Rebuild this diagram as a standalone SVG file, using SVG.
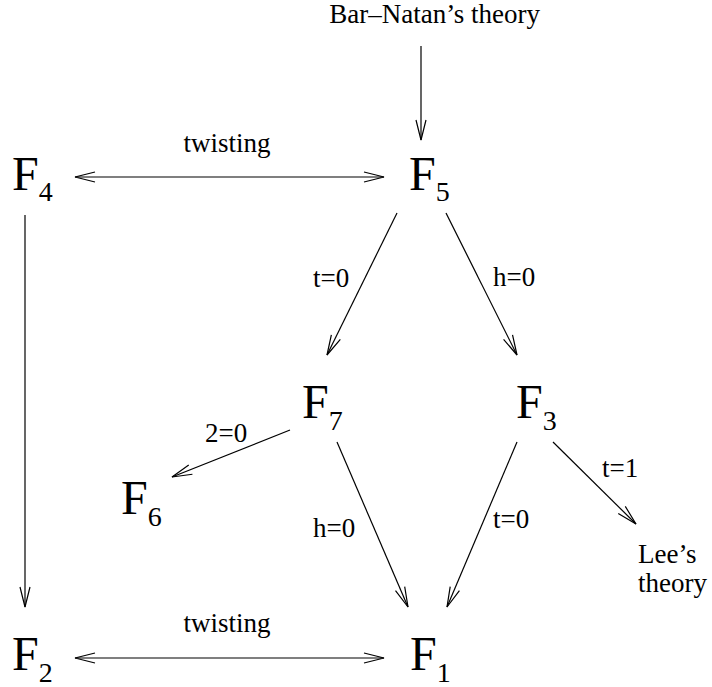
<svg xmlns="http://www.w3.org/2000/svg" width="712" height="687" viewBox="0 0 712 687">
<style>
.n{font-family:"Liberation Serif","Times New Roman",serif;font-size:48px;fill:#000}
.s{font-size:28px}
.l{font-family:"Liberation Serif","Times New Roman",serif;font-size:27px;fill:#000}
.e{stroke:#000;stroke-width:1.2;fill:none;marker-end:url(#a)}
.d{marker-start:url(#a)}
</style>
<defs>
<marker id="a" markerUnits="userSpaceOnUse" orient="auto-start-reverse" overflow="visible" refX="0" refY="0" markerWidth="1" markerHeight="1">
<path d="M-20,-5 L0,0 L-20,5" fill="none" stroke="#000" stroke-width="1.2"/>
</marker>
</defs>
<rect width="712" height="687" fill="#fff"/>
<g id="connectors">
<line class="e" x1="421" y1="46" x2="421" y2="140"/>
<line class="e d" x1="75" y1="177" x2="384" y2="177"/>
<line class="e" x1="397" y1="213" x2="327" y2="355"/>
<line class="e" x1="446" y1="213" x2="517" y2="355"/>
<line class="e" x1="290" y1="430" x2="172" y2="477"/>
<line class="e" x1="337" y1="442" x2="408" y2="607"/>
<line class="e" x1="517" y1="442" x2="447" y2="607"/>
<line class="e" x1="553" y1="442" x2="636" y2="524"/>
<line class="e" x1="25" y1="215" x2="25" y2="607"/>
<line class="e d" x1="75" y1="658" x2="384" y2="658"/>
<text class="l" x="227" y="152" text-anchor="middle">twisting</text>
<text class="l" x="227" y="632" text-anchor="middle">twisting</text>
<text class="l" x="313" y="287">t=0</text>
<text class="l" x="493" y="286">h=0</text>
<text class="l" x="205" y="442">2=0</text>
<text class="l" x="313" y="537">h=0</text>
<text class="l" x="493" y="528">t=0</text>
<text class="l" x="602" y="477">t=1</text>
</g>
<g id="bar-natan"><text class="l" x="540" y="23" text-anchor="end">Bar–Natan’s theory</text></g>
<g id="lee"><text class="l" x="638" y="563">Lee’s</text><text class="l" x="638" y="592">theory</text></g>
<g id="F4"><text class="n" x="12" y="190">F<tspan class="s" dy="11">4</tspan></text></g>
<g id="F5"><text class="n" x="409" y="190">F<tspan class="s" dy="11">5</tspan></text></g>
<g id="F7"><text class="n" x="302" y="418">F<tspan class="s" dy="12">7</tspan></text></g>
<g id="F3"><text class="n" x="516" y="418">F<tspan class="s" dy="12">3</tspan></text></g>
<g id="F6"><text class="n" x="121" y="514">F<tspan class="s" dy="12">6</tspan></text></g>
<g id="F2"><text class="n" x="12" y="670">F<tspan class="s" dy="12">2</tspan></text></g>
<g id="F1"><text class="n" x="410" y="670">F<tspan class="s" dy="12">1</tspan></text></g>
</svg>
